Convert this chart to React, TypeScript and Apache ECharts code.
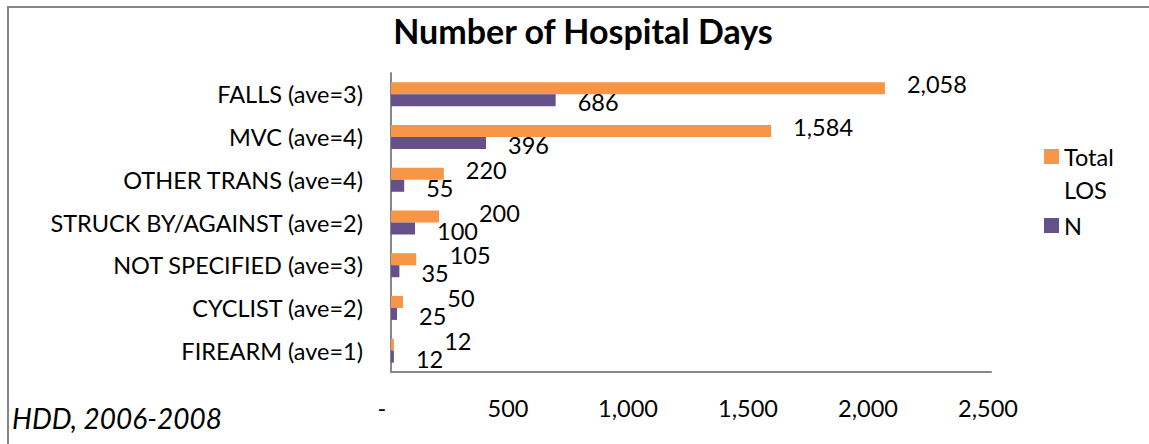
import React, { useEffect, useRef } from "react";
import * as echarts from "echarts";

const categories = [
  "FALLS (ave=3)",
  "MVC (ave=4)",
  "OTHER TRANS (ave=4)",
  "STRUCK BY/AGAINST (ave=2)",
  "NOT SPECIFIED (ave=3)",
  "CYCLIST (ave=2)",
  "FIREARM (ave=1)",
];
const totalLOS = [2058, 1584, 220, 200, 105, 50, 12];
const nCount = [686, 396, 55, 100, 35, 25, 12];
const seriesNames = ["Total LOS", "N"];
const titleText = "Number of Hospital Days";
const noteText = "HDD, 2006-2008";

const FONT = "Lato";
const FS = 23.5;
const LABEL_DIST = 22;
const fmt = (v: number) => (v === 0 ? "-   " : v.toLocaleString("en-US") + " ");
const numText = (v: number) => v.toLocaleString("en-US");

export default function App() {
  const ref = useRef<HTMLDivElement>(null);
  useEffect(() => {
    document.body.style.margin = "0";
    const chart = echarts.init(ref.current!, null, { renderer: "svg" });
    const ctx = document.createElement("canvas").getContext("2d")!;
    ctx.font = `${FS}px ${FONT}`;
    const barLabel = (dy: number) => ({
      show: true,
      position: "right",
      distance: LABEL_DIST,
      offset: [0, dy],
      fontSize: FS,
      fontFamily: FONT,
      color: "#000",
      formatter: (p: any) => numText(p.value),
    });
    // keep a Total LOS label clear of the N label of the same category, and lift it a little
    const orangeLayout = (params: any) => {
      const i = params.dataIndex;
      const px = chart.convertToPixel({ xAxisIndex: 0 }, nCount[i]) as number;
      const nRight = px + LABEL_DIST + ctx.measureText(numText(nCount[i])).width;
      const cur = params.labelRect.x;
      return { dx: Math.max(0, nRight + 1 - cur), dy: -4 };
    };
    chart.setOption({
      animation: false,
      backgroundColor: "#ffffff",
      textStyle: { fontFamily: FONT, color: "#000" },
      title: {
        text: titleText,
        left: 578,
        top: 8,
        textAlign: "center",
        textStyle: { fontFamily: FONT, fontSize: 34, fontWeight: "bold", color: "#000" },
      },
      graphic: [
        {
          type: "rect",
          shape: { x: 8, y: 7, width: 1300, height: 600 },
          style: { fill: "none", stroke: "#878787", lineWidth: 2 },
          silent: true,
        },
        {
          type: "text",
          left: 12,
          top: 404,
          style: { text: noteText, font: `italic 28px ${FONT}`, fill: "#000" },
        },
      ],
      legend: {
        orient: "vertical",
        left: 1044,
        top: 107,
        padding: 0,
        itemWidth: 15,
        itemHeight: 15,
        itemGap: 3,
        icon: "rect",
        textStyle: { fontFamily: FONT, fontSize: FS, color: "#000", lineHeight: 33 },
        data: [{ name: "Total LOS" }, { name: "N" }],
        formatter: (name: string) => (name === "Total LOS" ? "\nTotal\nLOS" : name),
      },
      grid: { left: 391, right: 158, top: 73, bottom: 72, containLabel: false },
      xAxis: {
        type: "value",
        min: 0,
        max: 2500,
        interval: 500,
        axisLine: { show: true, lineStyle: { color: "#878787", width: 2 } },
        axisTick: { show: false },
        splitLine: { show: false },
        axisLabel: { margin: 24, fontSize: FS, fontFamily: FONT, color: "#000", formatter: fmt },
      },
      yAxis: {
        type: "category",
        data: categories,
        inverse: true,
        axisLine: { show: true, lineStyle: { color: "#878787", width: 2 } },
        axisTick: { show: false },
        axisLabel: { margin: 28, fontSize: FS, fontFamily: FONT, color: "#000" },
      },
      series: [
        {
          name: seriesNames[0],
          type: "bar",
          data: totalLOS,
          barWidth: 12,
          barGap: "0%",
          itemStyle: { color: "#f79646" },
          label: barLabel(0),
          labelLayout: orangeLayout,
        },
        {
          name: seriesNames[1],
          type: "bar",
          data: nCount,
          barWidth: 12,
          barGap: "0%",
          itemStyle: { color: "#66508a" },
          label: barLabel(2),
        },
      ],
    });
    return () => chart.dispose();
  }, []);
  return <div ref={ref} style={{ width: 1149, height: 444 }} />;
}
